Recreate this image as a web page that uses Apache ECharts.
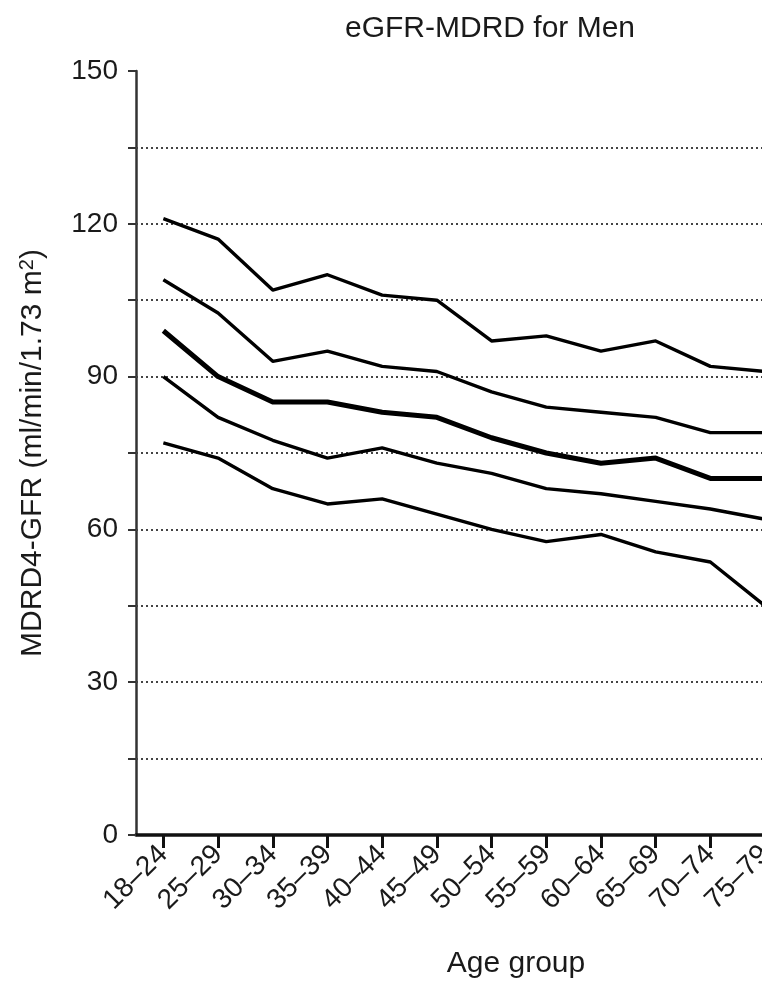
<!DOCTYPE html>
<html>
<head>
<meta charset="utf-8">
<script src="https://cdn.jsdelivr.net/npm/echarts@6/dist/echarts.min.js"></script>
<style>
html, body { margin: 0; padding: 0; overflow: hidden; background: #fff; width: 762px; height: 983px; }
#chart { width: 830px; height: 983px; }
</style>
</head>
<body>
<div id="chart"></div>
<script>
const categories = ['18–24','25–29','30–34','35–39','40–44','45–49','50–54','55–59','60–64','65–69','70–74','75–79'];
const line1 = [121, 117, 107, 110, 106, 105, 97, 98, 95, 97, 92, 91];
const line2 = [109, 102.5, 93, 95, 92, 91, 87, 84, 83, 82, 79, 79];
const median = [99, 90, 85, 85, 83, 82, 78, 75, 73, 74, 70, 70];
const line4 = [90, 82, 77.5, 74, 76, 73, 71, 68, 67, 65.5, 64, 62];
const line5 = [77, 74, 68, 65, 66, 63, 60, 57.6, 59, 55.6, 53.6, 45];
const gridValues = [15, 30, 45, 60, 75, 90, 105, 120, 135];
const yTickLabels = [0, 30, 60, 90, 120, 150];

const FONT = "'Liberation Sans', Arial, Helvetica, sans-serif";
const chart = echarts.init(document.getElementById('chart'), null, { renderer: 'canvas' });

function lineSeries(data, width) {
  return {
    type: 'line', data: data, symbol: 'none', smooth: false, silent: true,
    lineStyle: { color: '#000', width: width, join: 'round' }, z: 3
  };
}

const series = [
  lineSeries(line1, 3.4),
  lineSeries(line2, 3.4),
  lineSeries(median, 5),
  lineSeries(line4, 3.4),
  lineSeries(line5, 3.4)
];
series[0].markLine = {
  silent: true, symbol: 'none', label: { show: false },
  lineStyle: { color: '#444', width: 2, type: [2, 3] },
  data: gridValues.map(v => ({ yAxis: v })), z: 1
};

chart.setOption({
  animation: false,
  backgroundColor: '#fff',
  textStyle: { fontFamily: FONT },
  graphic: [
    { type: 'text', x: 490, y: 14, style: { text: 'eGFR-MDRD for Men', font: "30px " + FONT, fill: '#1a1a1a', textAlign: 'center', textVerticalAlign: 'top' } },
    { type: 'text', x: 516, y: 949, style: { text: 'Age group', font: "30px " + FONT, fill: '#1a1a1a', textAlign: 'center', textVerticalAlign: 'top' } }
  ],
  grid: { left: 136, top: 71, width: 656.4, bottom: 148, containLabel: false },
  xAxis: {
    type: 'category', data: categories, boundaryGap: true,
    axisLine: { show: true, lineStyle: { color: '#111', width: 3.5 } },
    axisTick: { show: true, alignWithLabel: true, length: 13, lineStyle: { color: '#111', width: 3 } },
    axisLabel: { rotate: 45, margin: 15, fontSize: 28, color: '#1a1a1a', fontFamily: FONT, interval: 0 },
    splitLine: { show: false }
  },
  yAxis: {
    type: 'value', min: 0, max: 150, interval: 15,
    name: 'MDRD4-GFR (ml/min/1.73 m{sup|2})',
    nameLocation: 'middle', nameRotate: 90, nameGap: 87,
    nameTextStyle: { fontSize: 30, color: '#1a1a1a', fontFamily: FONT,
      rich: { sup: { fontSize: 20, verticalAlign: 'top', padding: [0, 0, 12, 0], color: '#1a1a1a', fontFamily: FONT } } },
    axisLine: { show: true, lineStyle: { color: '#333', width: 2.5 } },
    axisTick: { show: true, length: 8, lineStyle: { color: '#333', width: 2 } },
    axisLabel: { fontSize: 28, margin: 18, color: '#1a1a1a', fontFamily: FONT,
      formatter: v => (yTickLabels.indexOf(v) >= 0 ? String(v) : '') },
    splitLine: { show: false }
  },
  series: series
});
</script>
</body>
</html>
